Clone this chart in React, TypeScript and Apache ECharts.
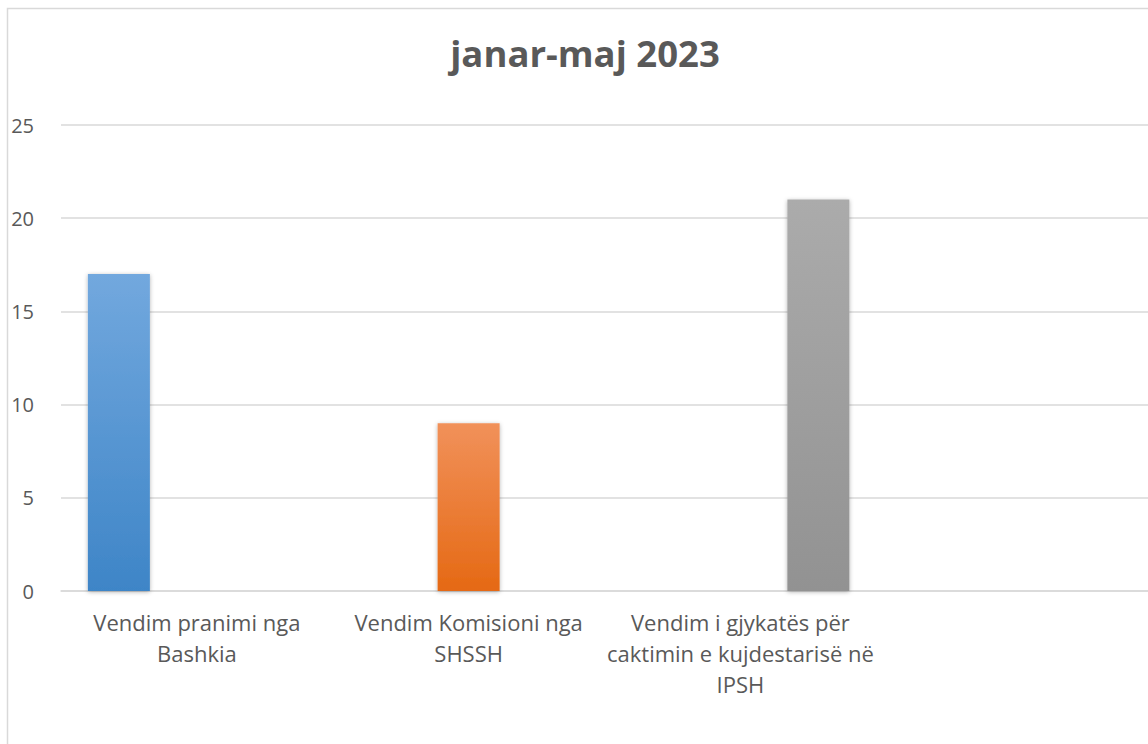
import React, { useEffect, useRef } from "react";
import * as echarts from "echarts";

const categories = [
  "Vendim pranimi nga\nBashkia",
  "Vendim Komisioni nga\nSHSSH",
  "Vendim i gjykatës për\ncaktimin e kujdestarisë në\nIPSH",
  "",
];
const seriesNames = ["Bashkia", "SHSSH", "IPSH"];
const seriesBashkia = [17, null, null, null];
const seriesShssh = [null, 9, null, null];
const seriesIpsh = [null, null, 21, null];
const gradients = [
  ["#72a8de", "#3e85c7"],
  ["#f1915a", "#e56914"],
  ["#ababab", "#929292"],
];

export default function App() {
  const ref = useRef<HTMLDivElement>(null);
  useEffect(() => {
    const chart = echarts.init(ref.current!, null, { renderer: "svg" });
    const dataSets = [seriesBashkia, seriesShssh, seriesIpsh];
    chart.setOption({
      animation: false,
      backgroundColor: "#ffffff",
      textStyle: { fontFamily: "Open Sans" },
      title: {
        text: "janar-maj 2023",
        left: 580,
        textAlign: "center",
        top: 29,
        textStyle: { fontSize: 36.5, fontWeight: "bold", color: "#595959", fontFamily: "Open Sans" },
      },
      graphic: [
        {
          type: "rect",
          shape: { x: 7.5, y: 8.5, width: 1200, height: 800 },
          style: { fill: "none", stroke: "#d9d9d9", lineWidth: 1.5 },
          silent: true,
        },
      ],
      grid: { left: 61, right: -5, top: 125, bottom: 153, containLabel: false },
      xAxis: {
        type: "category",
        data: categories,
        axisLine: { show: true, lineStyle: { color: "#d9d9d9", width: 1.5 } },
        axisTick: { show: false },
        axisLabel: {
          color: "#595959",
          fontSize: 22,
          lineHeight: 31,
          margin: 15,
          interval: 0,
          fontFamily: "Open Sans",
        },
      },
      yAxis: {
        type: "value",
        min: 0,
        max: 25,
        interval: 5,
        axisLine: { show: false },
        axisTick: { show: false },
        splitLine: { lineStyle: { color: "#d9d9d9", width: 1.5 } },
        axisLabel: { color: "#595959", fontSize: 20, margin: 27, fontFamily: "Open Sans" },
      },
      series: dataSets.map((d, i) => ({
        name: seriesNames[i],
        type: "bar",
        data: d,
        barWidth: 62,
        barGap: "25.8%",
        itemStyle: {
          color: new echarts.graphic.LinearGradient(0, 0, 0, 1, [
            { offset: 0, color: gradients[i][0] },
            { offset: 1, color: gradients[i][1] },
          ]),
          shadowBlur: 4,
          shadowColor: "rgba(0,0,0,0.3)",
          shadowOffsetX: 0,
          shadowOffsetY: 1,
        },
      })),
    });
    return () => chart.dispose();
  }, []);
  return (
    <div
      ref={ref}
      style={{ position: "absolute", left: 0, top: 0, width: 1148, height: 744 }}
    />
  );
}
